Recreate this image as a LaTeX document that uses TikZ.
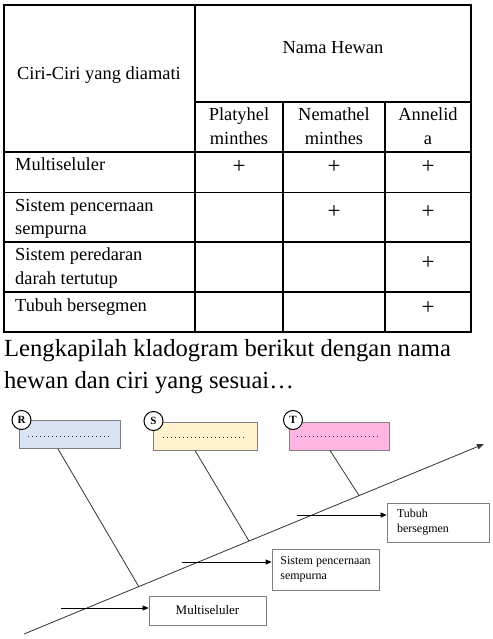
\documentclass[tikz,border=0pt]{standalone}
\usepackage{fontspec}
\setmainfont{Liberation Serif}
\usetikzlibrary{arrows.meta}

\definecolor{boxline}{HTML}{7F7F7F}
\definecolor{rfill}{HTML}{DAE3F3}
\definecolor{sfill}{HTML}{FFF2CC}
\definecolor{tfill}{HTML}{FFB6E3}
\definecolor{inkline}{HTML}{333333}

\begin{document}
\begin{tikzpicture}[x=1pt,y=-1pt,
  tbl/.style={line width=1.2pt,black},
  tbltext/.style={inner sep=0pt,font=\fontsize{18.4}{23}\selectfont},
  plusmark/.style={inner sep=0pt,font=\fontsize{23}{23}\selectfont},
  bigtext/.style={inner sep=0pt,anchor=base west,font=\fontsize{24.6}{30}\selectfont},
  namebox/.style={draw=boxline,line width=0.8pt,minimum height=28pt,inner sep=0pt},
  tag/.style={circle,draw=black,line width=1pt,fill=white,minimum size=19pt,inner sep=0pt,
    font=\fontsize{11}{12}\selectfont\bfseries},
  blankline/.style={draw=inkline,line width=0.9pt,dash pattern=on 1.1pt off 2.9pt},
  traitbox/.style={draw=boxline,line width=0.8pt,inner ysep=0pt,
    font=\fontsize{12}{15}\selectfont},
  branch/.style={draw=inkline,line width=0.8pt},
  trait/.style={draw=black,line width=0.8pt,-{Triangle[length=6pt,width=5pt]}}
]
\useasboundingbox (0,0) rectangle (492,639);

% ---------- table grid ----------
\draw[tbl] (4,5) rectangle (471,332);
\draw[tbl] (195,5) -- (195,332);
\draw[tbl] (195,102) -- (471,102);
\draw[tbl] (4,152) -- (471,152);
\draw[tbl] (283,102) -- (283,332);
\draw[tbl] (385,102) -- (385,332);
\draw[tbl] (4,192.5) -- (471,192.5);
\draw[tbl] (4,242) -- (471,242);
\draw[tbl] (4,292) -- (471,292);

% ---------- table header ----------
\node[tbltext,anchor=base] (hdrname) at (333,54) {Nama Hewan};
\node[tbltext,anchor=base west] (hdrtrait) at (17,80) {Ciri-Ciri yang diamati};
\node[tbltext,anchor=base] (c1a) at (239,120.5) {Platyhel};
\node[tbltext,anchor=base] (c1b) at (239,144.5) {minthes};
\node[tbltext,anchor=base] (c2a) at (334,120.5) {Nemathel};
\node[tbltext,anchor=base] (c2b) at (334,144.5) {minthes};
\node[tbltext,anchor=base] (c3a) at (428,120.5) {Annelid};
\node[tbltext,anchor=base] (c3b) at (428,144.5) {a};

% ---------- table rows ----------
\node[tbltext,anchor=base west] (r1) at (15,170.5) {Multiseluler};
\node[tbltext,anchor=base west] (r2a) at (15,211) {Sistem pencernaan};
\node[tbltext,anchor=base west] (r2b) at (15,234) {sempurna};
\node[tbltext,anchor=base west] (r3a) at (15,260.5) {Sistem peredaran};
\node[tbltext,anchor=base west] (r3b) at (15,284) {darah tertutup};
\node[tbltext,anchor=base west] (r4) at (15,311) {Tubuh bersegmen};

\node[plusmark] (p11) at (239,167) {+};
\node[plusmark] (p12) at (334,167) {+};
\node[plusmark] (p13) at (428,167) {+};
\node[plusmark] (p22) at (334,212) {+};
\node[plusmark] (p23) at (428,212) {+};
\node[plusmark] (p33) at (428,263) {+};
\node[plusmark] (p43) at (428,308) {+};

% ---------- instruction ----------
\node[bigtext] (q1) at (4,356) {Lengkapilah kladogram berikut dengan nama};
\node[bigtext] (q2) at (4,388) {hewan dan ciri yang sesuai…};

% ---------- cladogram ----------
\coordinate (root) at (24,634);
\coordinate (tip) at (484,444);
\draw[branch,-{Triangle[length=7pt,width=5.5pt]}] (root) -- (tip);

% name boxes to fill in
\node[namebox,fill=rfill,minimum width=101pt] (R) at (69.5,434.5) {};
\node[namebox,fill=sfill,minimum width=104pt] (S) at (205,436) {};
\node[namebox,fill=tfill,minimum width=100pt] (T) at (339,436) {};
\draw[blankline] (28,436) -- (110,436);
\draw[blankline] (163,437) -- (245,437);
\draw[blankline] (297,436) -- (380,436);
\node[tag] (Rtag) at (21.5,420) {R};
\node[tag] (Stag) at (153.5,421) {S};
\node[tag] (Ttag) at (293,420) {T};

% branches down to the main line
\coordinate (Rfoot) at (139,587);
\coordinate (Sfoot) at (249,541);
\coordinate (Tfoot) at (359,495.5);
\draw[branch] (R.south -| 58,0) -- (Rfoot);
\draw[branch] (S.south -| 195,0) -- (Sfoot);
\draw[branch] (T.south -| 330,0) -- (Tfoot);

% trait boxes
\node[traitbox,minimum width=117pt,minimum height=29pt,font=\fontsize{13}{15}\selectfont] (M)
  at (207.5,610.5) {Multiseluler};
\node[traitbox,minimum width=107pt,minimum height=41pt,align=left] (SP) at (325.5,569.5)
  {Sistem pencernaan\\sempurna};
\node[traitbox,minimum width=102pt,minimum height=39pt,inner xsep=10pt,
  text width=82pt,align=left] (TB) at (438,522.5) {Tubuh\\bersegmen};

\coordinate (Mstart) at (61,608);
\coordinate (SPstart) at (182,562);
\coordinate (TBstart) at (297,515);
\draw[trait] (Mstart) -- (M.west |- Mstart);
\draw[trait] (SPstart) -- (SP.west |- SPstart);
\draw[trait] (TBstart) -- (TB.west |- TBstart);
\end{tikzpicture}
\end{document}
